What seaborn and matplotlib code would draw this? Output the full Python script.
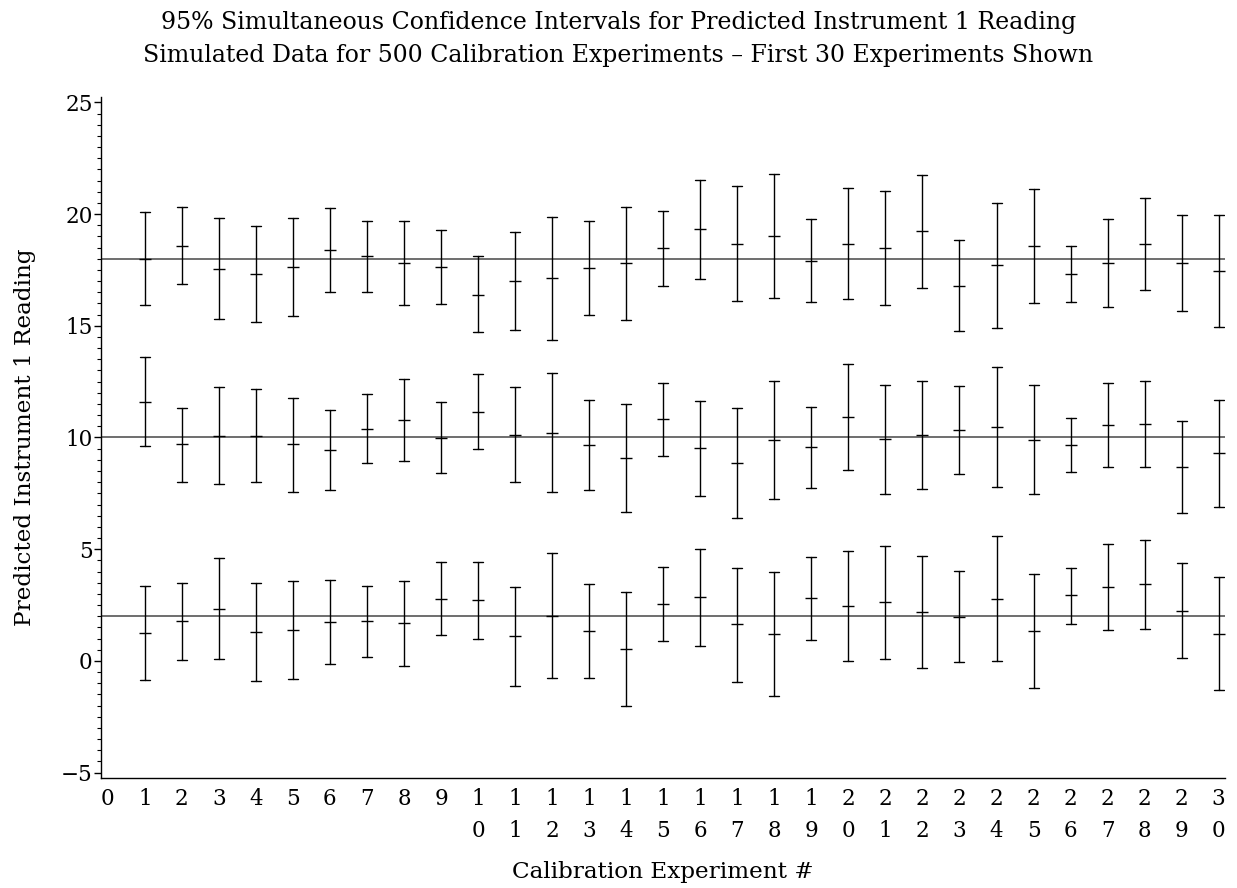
import matplotlib
matplotlib.use("Agg")
import matplotlib.pyplot as plt
from matplotlib.ticker import MultipleLocator, FixedLocator
import numpy as np
import pandas as pd
import seaborn as sns

# Calibration experiment numbers
experiments = list(range(1, 31))

# True instrument readings (reference levels)
true_levels = [2, 10, 18]

# Predicted readings with 95% simultaneous interval bounds, level 18
high_lo = [15.92, 16.86, 15.30, 15.15, 15.46, 16.53, 16.52, 15.92, 15.98, 14.70,
           14.82, 14.38, 15.50, 15.28, 16.76, 17.10, 16.13, 16.24, 16.06, 16.22,
           15.91, 16.71, 14.77, 14.89, 16.04, 16.06, 15.86, 16.62, 15.67, 14.95]
high_mid = [18.00, 18.58, 17.54, 17.31, 17.64, 18.40, 18.12, 17.81, 17.64, 16.40,
            17.00, 17.13, 17.60, 17.79, 18.46, 19.31, 18.67, 19.01, 17.92, 18.68,
            18.48, 19.25, 16.79, 17.70, 18.57, 17.33, 17.83, 18.67, 17.81, 17.45]
high_hi = [20.10, 20.30, 19.83, 19.48, 19.82, 20.28, 19.71, 19.71, 19.28, 18.12,
           19.18, 19.88, 19.69, 20.30, 20.15, 21.54, 21.25, 21.79, 19.80, 21.18,
           21.03, 21.77, 18.85, 20.49, 21.12, 18.57, 19.78, 20.72, 19.94, 19.95]

# Level 10
med_lo = [9.60, 8.02, 7.90, 7.99, 7.58, 7.63, 8.85, 8.96, 8.39, 9.49,
          8.00, 7.54, 7.63, 6.66, 9.19, 7.40, 6.40, 7.26, 7.76, 8.54,
          7.47, 7.70, 8.36, 7.78, 7.47, 8.45, 8.70, 8.67, 6.60, 6.87]
med_mid = [11.60, 9.69, 10.06, 10.06, 9.70, 9.42, 10.39, 10.78, 9.99, 11.15,
           10.12, 10.20, 9.66, 9.09, 10.84, 9.51, 8.84, 9.91, 9.57, 10.93,
           9.93, 10.11, 10.33, 10.47, 9.91, 9.67, 10.57, 10.61, 8.66, 9.30]
med_hi = [13.61, 11.32, 12.28, 12.18, 11.79, 11.23, 11.93, 12.60, 11.59, 12.82,
          12.27, 12.90, 11.67, 11.51, 12.46, 11.63, 11.30, 12.55, 11.37, 13.30,
          12.36, 12.51, 12.32, 13.15, 12.33, 10.88, 12.46, 12.55, 10.75, 11.70]

# Level 2
low_lo = [-0.84, 0.04, 0.07, -0.90, -0.82, -0.12, 0.16, -0.21, 1.15, 1.00,
          -1.12, -0.75, -0.78, -2.02, 0.87, 0.67, -0.93, -1.58, 0.94, 0.01,
          0.09, -0.30, -0.06, 0.00, -1.21, 1.67, 1.37, 1.45, 0.12, -1.31]
low_mid = [1.27, 1.78, 2.34, 1.28, 1.37, 1.75, 1.78, 1.69, 2.79, 2.72,
           1.11, 2.03, 1.36, 0.52, 2.55, 2.87, 1.64, 1.19, 2.81, 2.45,
           2.63, 2.19, 1.98, 2.76, 1.33, 2.94, 3.31, 3.45, 2.25, 1.22]
low_hi = [3.37, 3.48, 4.61, 3.48, 3.57, 3.60, 3.37, 3.58, 4.42, 4.42,
          3.33, 4.81, 3.46, 3.07, 4.22, 5.02, 4.18, 3.96, 4.67, 4.91,
          5.16, 4.69, 4.04, 5.57, 3.90, 4.18, 5.24, 5.43, 4.39, 3.75]

# Tick labels on the x axis: two-digit numbers are stacked vertically
x_tick_values = list(range(0, 31))
x_tick_labels = [str(v) if v < 10 else f"{str(v)[0]}\n{str(v)[1]}" for v in x_tick_values]

# Long-form table: each interval contributes its lower bound, prediction and upper bound
groups = {
    "2": (low_lo, low_mid, low_hi),
    "10": (med_lo, med_mid, med_hi),
    "18": (high_lo, high_mid, high_hi),
}
rows = []
for level, (lo, mid, hi) in groups.items():
    for i, exp in enumerate(experiments):
        for val in (lo[i], mid[i], hi[i]):
            rows.append({"experiment": exp, "reading": val, "level": level})
df = pd.DataFrame(rows)

sns.set_theme(style="ticks")
plt.rcParams["font.family"] = ["DejaVu Serif"]
plt.rcParams["axes.unicode_minus"] = True
for key in ("text.color", "axes.labelcolor", "xtick.color", "ytick.color", "axes.edgecolor"):
    plt.rcParams[key] = "black"

fig = plt.figure(figsize=(12.37, 8.88), dpi=100)
ax = fig.add_axes([0.0817, 0.1239, 0.9083, 0.7671])

# Reference lines at the true readings
for lvl in true_levels:
    ax.axhline(lvl, color="#555555", linewidth=1.2, zorder=1)

sns.pointplot(
    data=df, x="experiment", y="reading", hue="level",
    estimator="median",
    errorbar=lambda v: (np.min(v), np.max(v)),
    native_scale=True,
    palette=["black", "black", "black"],
    markers="_", linestyles="none",
    capsize=0.27,
    err_kws={"linewidth": 1.0},
    markersize=9, markeredgewidth=1.0,
    legend=False, ax=ax,
)

ax.set_xlim(-0.18, 30.16)
ax.set_ylim(-5.24, 25.25)

ax.xaxis.set_major_locator(FixedLocator(x_tick_values))
ax.set_xticklabels(x_tick_labels, fontsize=15.5, linespacing=1.6, va="top")
ax.tick_params(axis="x", length=0, pad=7)

ax.yaxis.set_major_locator(MultipleLocator(5))
ax.yaxis.set_minor_locator(MultipleLocator(0.5))
ax.tick_params(axis="y", which="major", length=5, width=1.0, labelsize=15.5,
               direction="out", pad=1)
ax.tick_params(axis="y", which="minor", length=3, width=0.8, direction="out")

for side in ("top", "right"):
    ax.spines[side].set_visible(False)
for side in ("left", "bottom"):
    ax.spines[side].set_linewidth(1.0)

ax.set_xlabel("Calibration Experiment #", fontsize=16.7, labelpad=14)
ax.set_ylabel("Predicted Instrument 1 Reading", fontsize=16.7)
ax.yaxis.set_label_coords(-0.058, 0.5)

fig.suptitle(
    "95% Simultaneous Confidence Intervals for Predicted Instrument 1 Reading\n"
    "Simulated Data for 500 Calibration Experiments \u2013 First 30 Experiments Shown",
    fontsize=17, y=0.988, linespacing=1.6,
)

fig.savefig("out.png", dpi=100)
